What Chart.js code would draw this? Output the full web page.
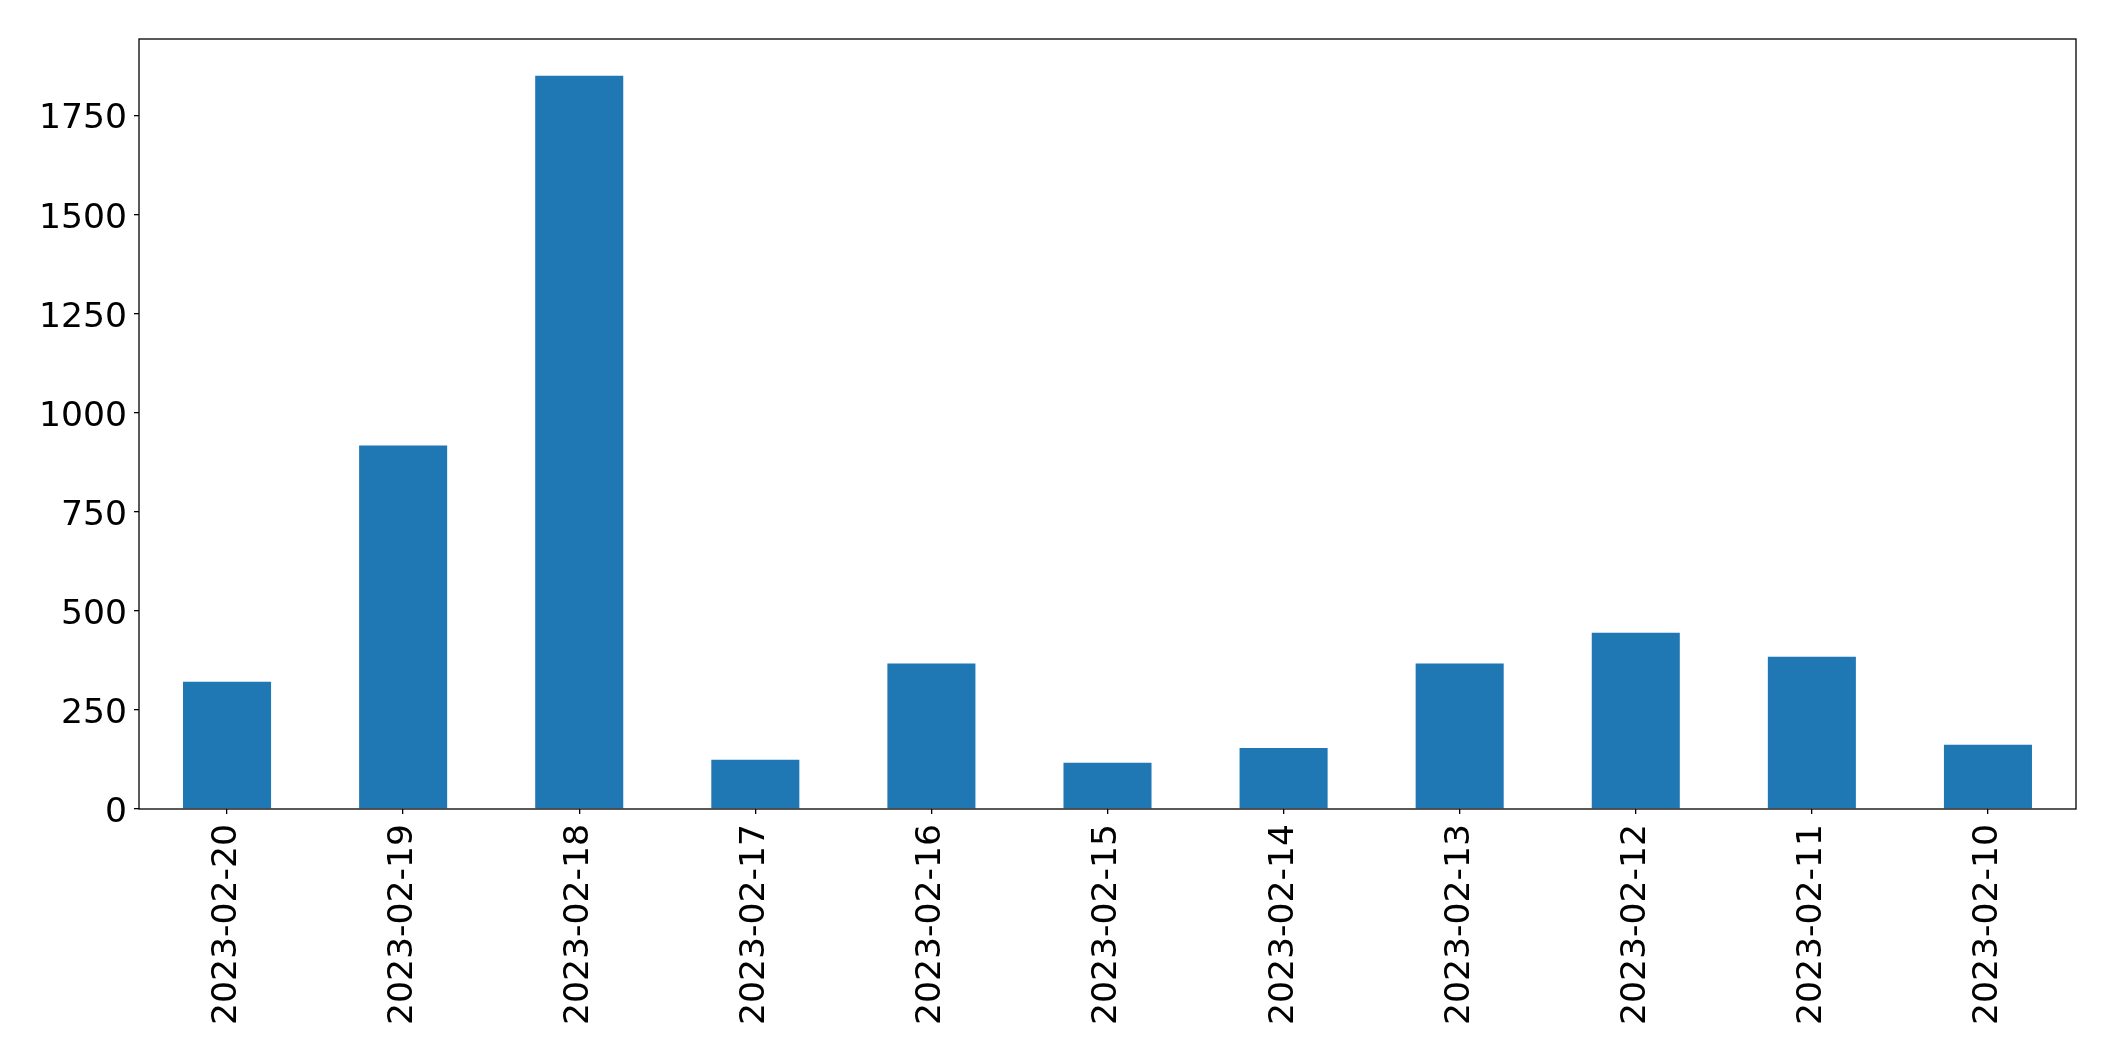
<!DOCTYPE html>
<html>
<head>
<meta charset="utf-8">
<script src="https://cdn.jsdelivr.net/npm/chart.js@4"></script>
<style>
  html, body { margin: 0; padding: 0; background: #fff; }
  #wrap { width: 2115px; height: 1061px; }
</style>
</head>
<body>
<div id="wrap"><canvas id="barChart" width="2115" height="1061"></canvas></div>
<script>
// values
const dates  = ['2023-02-20', '2023-02-19', '2023-02-18', '2023-02-17', '2023-02-16', '2023-02-15',
                '2023-02-14', '2023-02-13', '2023-02-12', '2023-02-11', '2023-02-10'];
const counts = [321, 917, 1850, 124, 367, 117, 154, 367, 445, 384, 162];
const yTicks = [0, 250, 500, 750, 1000, 1250, 1500, 1750];
const yMax   = 1943;

const tickFont = { family: 'DejaVu Sans', size: 34.6 };

// matplotlib-style frame round the plot area
const frameBox = {
    id: 'frameBox',
    afterDraw(chart) {
        const { ctx, chartArea: a } = chart;
        ctx.save();
        ctx.strokeStyle = '#000';
        ctx.lineWidth = 1.3;
        ctx.strokeRect(a.left, a.top, a.right - a.left, a.bottom - a.top);
        ctx.restore();
    }
};

new Chart(document.getElementById('barChart').getContext('2d'), {
    type: 'bar',
    data: {
        labels: dates,
        datasets: [{
            data: counts,
            backgroundColor: '#1f77b4',
            borderWidth: 0,
            barPercentage: 0.5,
            categoryPercentage: 1.0
        }]
    },
    options: {
        responsive: false, animation: false, devicePixelRatio: 1,
        layout: { padding: { top: 39, right: 39, left: 0, bottom: 0 } },
        plugins: { legend: { display: false }, tooltip: { enabled: false } },
        scales: {
            x: {
                grid: { drawOnChartArea: false, offset: false, tickLength: 5, color: '#000', lineWidth: 1.3 },
                border: { display: false },
                ticks: { color: '#000', font: tickFont, minRotation: 90, maxRotation: 90, padding: 10, autoSkip: false },
                afterFit: s => { s.height = 252; }
            },
            y: {
                min: 0, max: yMax,
                grid: { drawOnChartArea: false, tickLength: 5, color: '#000', lineWidth: 1.3 },
                border: { display: false },
                ticks: { color: '#000', font: tickFont, padding: 7, labelOffset: 4, callback: v => String(v) },
                afterBuildTicks: s => { s.ticks = yTicks.map(v => ({ value: v })); },
                afterFit: s => { s.width = 139; }
            }
        }
    },
    plugins: [frameBox]
});
</script>
</body>
</html>
